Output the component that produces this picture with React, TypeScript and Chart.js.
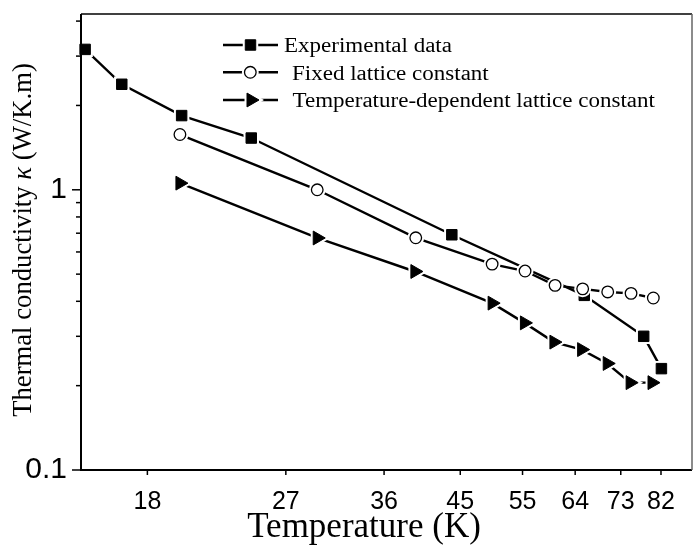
import React, { useEffect, useRef } from 'react';
import { Chart, registerables } from 'chart.js';

Chart.register(...registerables);

// ---- data ----
const expT = [15.0, 16.7, 19.9, 24.4, 43.9, 64.7, 77.0, 81.1];
const expK = [3.17, 2.38, 1.84, 1.53, 0.691, 0.42, 0.30, 0.23];

const fixT = [19.8, 29.6, 39.5, 49.4, 54.4, 59.4, 64.4, 69.3, 74.2, 79.2];
const fixK = [1.575, 1.0, 0.674, 0.543, 0.513, 0.456, 0.443, 0.432, 0.427, 0.411];

const tdT = [19.8, 29.6, 39.4, 49.4, 54.3, 59.2, 64.2, 69.2, 74.0, 78.9];
const tdK = [1.056, 0.673, 0.511, 0.394, 0.335, 0.286, 0.269, 0.240, 0.205, 0.205];

const seriesLabels = ['Experimental data', 'Fixed lattice constant', 'Temperature-dependent lattice constant'];

const xTickValues = [18, 27, 36, 45, 54, 63, 72, 81];
const xTickLabels = ['18', '27', '36', '45', '55', '64', '73', '82'];
const yTickValues = [0.1, 0.2, 0.3, 0.4, 0.5, 0.6, 0.7, 0.8, 0.9, 1, 2, 3, 4];
const yMajorValues = [0.1, 1];
const yMajorLabels = ['0.1', '1'];

const xTitle = 'Temperature (K)';
const yTitleParts = ['Thermal conductivity ', 'κ', ' (W/K.m)'];

const X_MIN = 14.82;
const X_MAX = 88.7;
const Y_MIN = 0.1;
const Y_MAX = 4.24;

const SANS = "'Liberation Sans', Arial, sans-serif";
const SERIF = "'Liberation Serif', 'Times New Roman', serif";

const HALO = 2;
const BIG = { left: -10000, right: 10000, top: -10000, bottom: 10000 };

const toXY = (xs: number[], ys: number[]) => xs.map((x, i) => ({ x, y: ys[i] }));

function drawWithHalo(el: any, ctx: CanvasRenderingContext2D) {
  const o = el.options;
  el.options = {
    ...o,
    backgroundColor: '#ffffff',
    borderColor: '#ffffff',
    borderWidth: (o.borderWidth || 0) + 2 * HALO,
  };
  el.draw(ctx, BIG);
  el.options = o;
  el.draw(ctx, BIG);
}

const customPlugin = {
  id: 'customDecor',
  afterDatasetDraw(chart: any, args: any) {
    const ctx = chart.ctx;
    ctx.save();
    for (const el of args.meta.data) drawWithHalo(el, ctx);
    ctx.restore();
  },
  afterDraw(chart: any) {
    const { ctx, chartArea: a, scales } = chart;
    const xs = scales.x;
    const ys = scales.y;
    ctx.save();
    ctx.strokeStyle = '#000';
    ctx.lineCap = 'butt';
    // frame
    ctx.lineWidth = 2;
    ctx.beginPath();
    ctx.moveTo(a.left, a.top);
    ctx.lineTo(a.left, a.bottom);
    ctx.lineTo(a.right, a.bottom);
    ctx.stroke();
    ctx.lineWidth = 1.5;
    ctx.beginPath();
    ctx.moveTo(a.left, a.top);
    ctx.lineTo(a.right, a.top);
    ctx.stroke();
    ctx.strokeStyle = '#666';
    ctx.beginPath();
    ctx.moveTo(a.right, a.top);
    ctx.lineTo(a.right, a.bottom);
    ctx.stroke();
    ctx.strokeStyle = '#000';
    // y ticks
    ctx.lineWidth = 1.5;
    for (const v of yTickValues) {
      const py = ys.getPixelForValue(v);
      const len = yMajorValues.includes(v) ? 9 : 5;
      ctx.beginPath();
      ctx.moveTo(a.left - len, py);
      ctx.lineTo(a.left, py);
      ctx.stroke();
    }
    // x ticks
    for (const v of xTickValues) {
      const px = xs.getPixelForValue(v);
      ctx.beginPath();
      ctx.moveTo(px, a.bottom);
      ctx.lineTo(px, a.bottom + 5);
      ctx.stroke();
    }

    // legend
    const rowsY = [45, 72.3, 100];
    const markerX = [250.5, 250.3, 251];
    const textX = [284, 292, 292.5];
    const baseOff = 7.2;
    chart.data.datasets.forEach((ds: any, i: number) => {
      const y = rowsY[i];
      ctx.strokeStyle = '#000';
      ctx.lineWidth = 2.4;
      ctx.beginPath();
      ctx.moveTo(223, y);
      ctx.lineTo(278, y);
      ctx.stroke();
      const meta = chart.getDatasetMeta(i);
      const el = meta.data[0];
      if (el) {
        const sx = el.x;
        const sy = el.y;
        el.x = markerX[i];
        el.y = y;
        drawWithHalo(el, ctx);
        el.x = sx;
        el.y = sy;
      }
      ctx.save();
      ctx.fillStyle = '#000';
      ctx.font = `20px ${SERIF}`;
      ctx.textAlign = 'left';
      ctx.textBaseline = 'alphabetic';
      ctx.translate(textX[i], y + baseOff);
      ctx.scale(1.15, 1);
      ctx.fillText(ds.label, 0, 0);
      ctx.restore();
    });

    // x title
    ctx.fillStyle = '#000';
    ctx.font = `35px ${SERIF}`;
    ctx.textAlign = 'center';
    ctx.textBaseline = 'alphabetic';
    ctx.fillText(xTitle, 364, 537);

    // y title (rotated)
    const fonts = [`26.7px ${SERIF}`, `italic 26.7px ${SERIF}`, `26.7px ${SERIF}`];
    const widths = yTitleParts.map((p, i) => {
      ctx.font = fonts[i];
      return ctx.measureText(p).width;
    });
    const total = widths.reduce((s, w) => s + w, 0);
    ctx.save();
    ctx.translate(31, 240);
    ctx.rotate(-Math.PI / 2);
    ctx.textAlign = 'left';
    let cx = -total / 2;
    yTitleParts.forEach((p, i) => {
      ctx.font = fonts[i];
      ctx.fillText(p, cx, 0);
      cx += widths[i];
    });
    ctx.restore();

    ctx.restore();
  },
};

export default function App() {
  const ref = useRef<HTMLCanvasElement | null>(null);

  useEffect(() => {
    document.body.style.margin = '0';
    document.body.style.background = '#ffffff';
    const canvas = ref.current;
    if (!canvas) return;
    const chart = new Chart(canvas, {
      type: 'line',
      data: {
        datasets: [
          {
            label: seriesLabels[0],
            data: toXY(expT, expK),
            borderColor: '#000',
            borderWidth: 2.4,
            pointStyle: 'rect',
            pointRadius: 7.4,
            pointBackgroundColor: '#000',
            pointBorderColor: '#000',
            pointBorderWidth: 1,
            order: 3,
            clip: false,
          },
          {
            label: seriesLabels[1],
            data: toXY(fixT, fixK),
            borderColor: '#000',
            borderWidth: 2.4,
            pointStyle: 'circle',
            pointRadius: 5.8,
            pointBackgroundColor: '#fff',
            pointBorderColor: '#000',
            pointBorderWidth: 1.3,
            order: 2,
            clip: false,
          },
          {
            label: seriesLabels[2],
            data: toXY(tdT, tdK),
            borderColor: '#000',
            borderWidth: 2.4,
            pointStyle: 'triangle',
            pointRotation: 90,
            pointRadius: 8,
            pointBackgroundColor: '#000',
            pointBorderColor: '#000',
            pointBorderWidth: 1,
            order: 1,
            clip: false,
          },
        ],
      },
      options: {
        animation: false,
        responsive: false,
        maintainAspectRatio: false,
        devicePixelRatio: 1,
        layout: { autoPadding: false, padding: { top: 14, right: 1, left: 0, bottom: 0 } },
        plugins: {
          legend: { display: false },
          tooltip: { enabled: false },
          title: { display: false },
        },
        elements: { line: { tension: 0, fill: false } },
        scales: {
          x: {
            type: 'logarithmic',
            min: X_MIN,
            max: X_MAX,
            grid: { display: false, drawTicks: false },
            border: { display: false },
            afterBuildTicks: (scale: any) => {
              scale.ticks = xTickValues.map((v) => ({ value: v }));
            },
            afterFit: (scale: any) => {
              scale.height = 78;
              scale.paddingLeft = 0;
              scale.paddingRight = 0;
            },
            ticks: {
              autoSkip: false,
              maxRotation: 0,
              minRotation: 0,
              padding: 17,
              color: '#000',
              font: { family: SANS, size: 25 },
              callback: (_v: any, i: number) => xTickLabels[i],
            },
          },
          y: {
            type: 'logarithmic',
            min: Y_MIN,
            max: Y_MAX,
            grid: { display: false, drawTicks: false },
            border: { display: false },
            afterBuildTicks: (scale: any) => {
              scale.ticks = yTickValues.map((v) => ({ value: v }));
            },
            afterFit: (scale: any) => {
              scale.width = 81;
              scale.paddingTop = 0;
              scale.paddingBottom = 0;
            },
            ticks: {
              autoSkip: false,
              padding: 14,
              color: '#000',
              font: { family: SANS, size: 30 },
              callback: (v: any) => {
                const idx = yMajorValues.findIndex((m) => Math.abs(m - Number(v)) < 1e-9);
                return idx >= 0 ? yMajorLabels[idx] : '';
              },
            },
          },
        },
      },
      plugins: [customPlugin],
    } as any);
    return () => chart.destroy();
  }, []);

  return (
    <div style={{ width: 693, height: 548, overflow: 'hidden', background: '#fff' }}>
      <canvas ref={ref} width={693} height={548} style={{ display: 'block', width: 693, height: 548 }} />
    </div>
  );
}
